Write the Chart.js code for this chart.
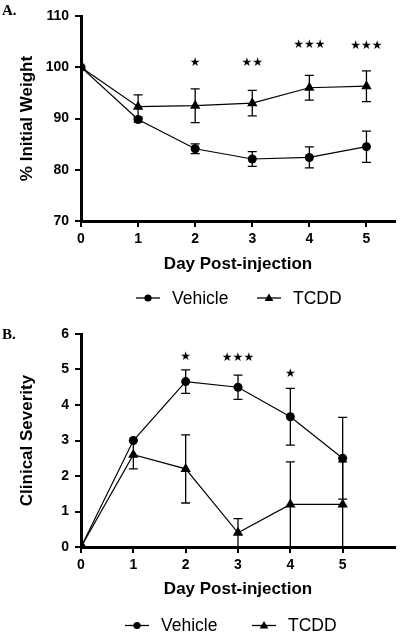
<!DOCTYPE html>
<html lang="en">
<head>
<meta charset="UTF-8">
<title>Weight and clinical severity after injection</title>
<script src="https://cdn.jsdelivr.net/npm/chart.js@4.4.1/dist/chart.umd.min.js"></script>
<style>
    body { margin: 0; background: #fff; }
    .panel { position: absolute; left: 0; width: 401px; }
    #panelA { top: 0; height: 310px; }
    #panelB { top: 310px; height: 324px; }
</style>
</head>
<body>
<div class="panel" id="panelA"><canvas id="chartA"></canvas></div>
<div class="panel" id="panelB"><canvas id="chartB"></canvas></div>

<script>
const days = [0, 1, 2, 3, 4, 5];
const seriesNames = ['Vehicle', 'TCDD'];
const xTicks = [0, 1, 2, 3, 4, 5];

// A. % initial weight (mean +/- error)
const weightVehicle = [100, 89.8, 84.1, 82.1, 82.4, 84.5];
const weightVehicleErr = [0, 0.5, 0.95, 1.45, 2.05, 3.05];
const weightTCDD = [100, 92.3, 92.5, 93.0, 96.0, 96.3];
const weightTCDDErr = [0, 2.3, 3.3, 2.5, 2.4, 3.0];
const weightStars = ['', '', '★', '★★', '★★★', '★★★'];
const weightStarLevel = [0, 0, 100.8, 100.8, 104.4, 104.2];
const weightTicks = [70, 80, 90, 100, 110];

// B. clinical severity
const severityVehicle = [0, 3.0, 4.66, 4.5, 3.67, 2.5];
const severityVehicleErr = [0, 0, 0.33, 0.34, 0.8, 1.15];
const severityTCDD = [0, 2.6, 2.2, 0.4, 1.2, 1.2];
const severityTCDDErr = [0, 0.4, 0.96, 0.4, 1.2, 1.2];
const severityStars = ['', '', '★', '★★★', '★', ''];
const severityStarLevel = [0, 0, 5.36, 5.33, 4.89, 0];
const severityTicks = [0, 1, 2, 3, 4, 5, 6];

const ink = '#000';
const sans = '"Liberation Sans", Arial, sans-serif';
const markers = ['circle', 'triangle'];
const markerSize = [4.5, 6];

function makePanel(canvasId, p) {
    const extras = {
        id: 'extras',
        afterDatasetsDraw(chart) {
            const { ctx, scales: { x, y } } = chart;
            ctx.save();
            ctx.strokeStyle = ink;
            ctx.lineWidth = 1.3;
            p.errors.forEach((errs, i) => {
                chart.getDatasetMeta(i).data.forEach((pt, j) => {
                    const e = errs[j];
                    if (!e) return;
                    const v = p.values[i][j];
                    const top = y.getPixelForValue(v + e);
                    const bot = Math.min(y.getPixelForValue(v - e), y.bottom);
                    ctx.beginPath();
                    ctx.moveTo(pt.x, top);
                    ctx.lineTo(pt.x, bot);
                    ctx.moveTo(pt.x - 4.5, top);
                    ctx.lineTo(pt.x + 4.5, top);
                    ctx.moveTo(pt.x - 4.5, bot);
                    ctx.lineTo(pt.x + 4.5, bot);
                    ctx.stroke();
                });
            });
            // significance stars
            ctx.fillStyle = ink;
            ctx.font = '12px "DejaVu Sans"';
            ctx.textAlign = 'center';
            ctx.textBaseline = 'middle';
            p.stars.forEach((s, j) => {
                if (s) ctx.fillText(s, x.getPixelForValue(days[j]), y.getPixelForValue(p.starLevel[j]));
            });
            ctx.restore();
        },
        afterDraw(chart) {
            const ctx = chart.ctx;
            ctx.save();
            // panel letter
            ctx.fillStyle = ink;
            ctx.font = 'bold 15px "Liberation Serif", "Times New Roman", serif';
            ctx.textAlign = 'left';
            ctx.textBaseline = 'alphabetic';
            ctx.fillText(p.letter, 2, p.letterY);
            // legend: line + marker + name
            ctx.font = '17.5px ' + sans;
            ctx.textBaseline = 'middle';
            ctx.strokeStyle = ink;
            p.legendX.forEach((lx, i) => {
                const ly = p.legendY;
                ctx.lineWidth = 1.3;
                ctx.beginPath();
                ctx.moveTo(lx, ly);
                ctx.lineTo(lx + 24, ly);
                ctx.stroke();
                ctx.lineWidth = 0;
                Chart.helpers.drawPoint(ctx, {
                    pointStyle: markers[i],
                    radius: i === 0 ? 3.6 : 5,
                    rotation: 0,
                    borderWidth: 0
                }, lx + 12, i === 0 ? ly : ly + 0.5);
                ctx.fillText(seriesNames[i], lx + 36, ly + 1);
            });
            ctx.restore();
        }
    };

    const datasets = p.values.map((vals, i) => ({
        label: seriesNames[i],
        data: days.map((d, j) => ({ x: d, y: vals[j] })),
        borderColor: ink,
        borderWidth: 1.2,
        backgroundColor: ink,
        pointStyle: markers[i],
        pointRadius: markerSize[i],
        pointBackgroundColor: ink,
        pointBorderColor: ink,
        pointBorderWidth: 0,
        tension: 0
    }));

    return new Chart(document.getElementById(canvasId), {
        type: 'line',
        data: { datasets },
        options: {
            responsive: true,
            maintainAspectRatio: false,
            animation: false,
            devicePixelRatio: 1,
            layout: { padding: { left: 0, right: p.padRight, top: p.padTop, bottom: 0 } },
            plugins: { legend: { display: false }, tooltip: { enabled: false } },
            scales: {
                x: {
                    type: 'linear',
                    min: 0,
                    max: p.xMax,
                    afterFit: s => { s.height = p.xAxisHeight; },
                    afterBuildTicks: s => { s.ticks = xTicks.map(v => ({ value: v })); },
                    border: { color: ink, width: 3 },
                    grid: { drawOnChartArea: false, color: ink, lineWidth: 2, tickLength: 6 },
                    ticks: { color: ink, padding: 4, font: { family: sans, weight: 'bold', size: 14 } },
                    title: {
                        display: true,
                        text: 'Day Post-injection',
                        color: ink,
                        font: { family: sans, weight: 'bold', size: 17 },
                        padding: { top: 0, bottom: p.xTitlePad }
                    }
                },
                y: {
                    min: p.yTicks[0],
                    max: p.yTicks[p.yTicks.length - 1],
                    afterFit: s => { s.width = 81; },
                    afterBuildTicks: s => { s.ticks = p.yTicks.map(v => ({ value: v })); },
                    border: { color: ink, width: 3 },
                    grid: { drawOnChartArea: false, color: ink, lineWidth: 2, tickLength: 6 },
                    ticks: { color: ink, padding: 6, font: { family: sans, weight: 'bold', size: 14 } },
                    title: {
                        display: true,
                        text: p.yTitle,
                        color: ink,
                        font: { family: sans, weight: 'bold', size: 17 },
                        padding: { top: 17, bottom: 0 }
                    }
                }
            }
        },
        plugins: [extras]
    });
}

makePanel('chartA', {
    letter: 'A.', letterY: 15,
    values: [weightVehicle, weightTCDD],
    errors: [weightVehicleErr, weightTCDDErr],
    stars: weightStars, starLevel: weightStarLevel,
    yTicks: weightTicks, yTitle: '% Initial Weight',
    xMax: 5.5, padTop: 16, padRight: 2,
    xAxisHeight: 89, xTitlePad: 35,
    legendX: [136, 257], legendY: 298
});

makePanel('chartB', {
    letter: 'B.', letterY: 28.5,
    values: [severityVehicle, severityTCDD],
    errors: [severityVehicleErr, severityTCDDErr],
    stars: severityStars, starLevel: severityStarLevel,
    yTicks: severityTicks, yTitle: 'Clinical Severity',
    xMax: 6, padTop: 24, padRight: 1,
    xAxisHeight: 87, xTitlePad: 34,
    legendX: [125, 252], legendY: 315.5
});
</script>
</body>
</html>
